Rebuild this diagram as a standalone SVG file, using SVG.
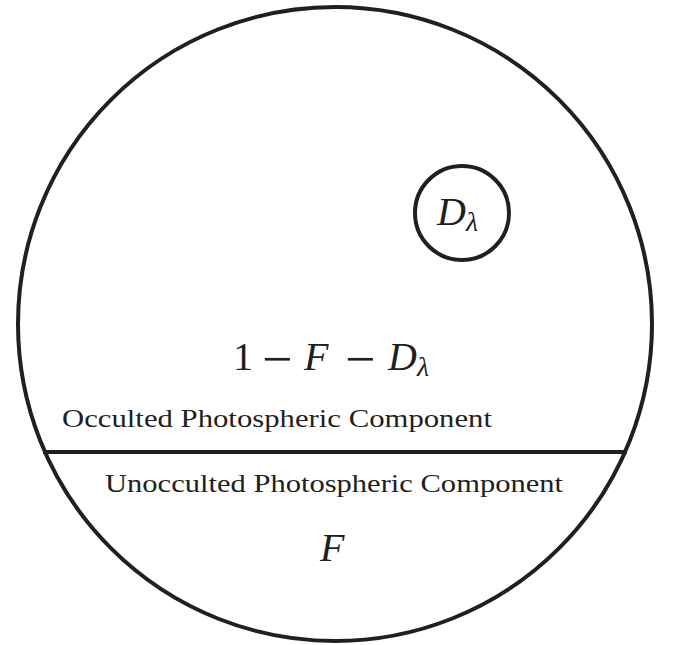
<svg xmlns="http://www.w3.org/2000/svg" width="673" height="645" viewBox="0 0 673 645">
<style>
.ln{fill:none;stroke:#231f20;stroke-width:4}
.lbl{font-family:"Liberation Serif","DejaVu Serif",serif;fill:#231f20}
.it{font-style:italic}
</style>
<rect width="673" height="645" fill="#fff"/>
<g id="star">
<circle class="ln" cx="335" cy="324" r="317"/>
</g>
<g id="connectors">
<line class="ln" x1="43" y1="452" x2="627" y2="452"/>
</g>
<g id="spot">
<circle class="ln" cx="462" cy="213" r="47"/>
<text class="lbl" x="437" y="225" font-size="40"><tspan class="it">D</tspan><tspan class="it" font-size="28" dy="6">λ</tspan></text>
</g>
<g id="occulted">
<text class="lbl" font-size="40"><tspan x="233" y="370">1</tspan><tspan x="262" y="377" font-size="54">−</tspan><tspan x="304" y="370" class="it">F</tspan><tspan x="345" y="377" font-size="54">−</tspan><tspan x="388" y="370" class="it">D</tspan><tspan class="it" font-size="28" y="376">λ</tspan></text>
<text class="lbl" x="62" y="427" font-size="26" textLength="430" lengthAdjust="spacingAndGlyphs">Occulted Photospheric Component</text>
</g>
<g id="unocculted">
<text class="lbl" x="105" y="492" font-size="26" textLength="458" lengthAdjust="spacingAndGlyphs">Unocculted Photospheric Component</text>
<text class="lbl it" x="320" y="561" font-size="40">F</text>
</g>
</svg>
